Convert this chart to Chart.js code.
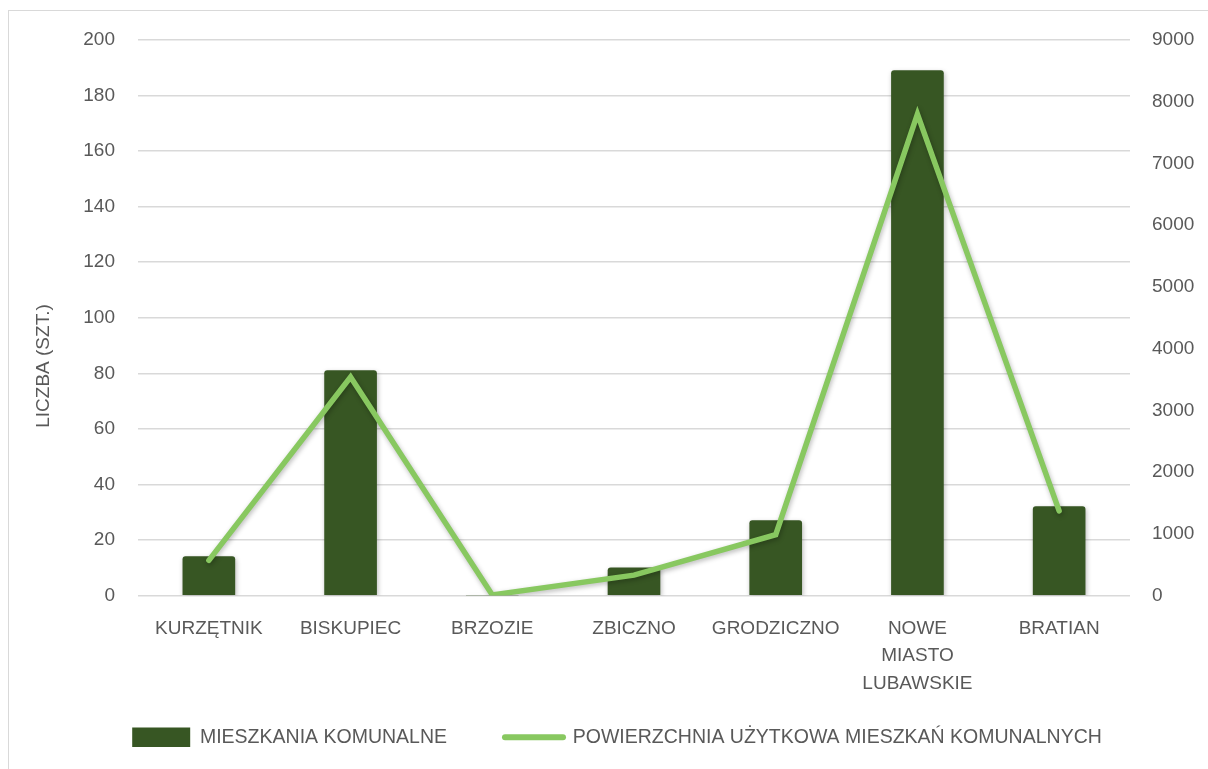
<!DOCTYPE html>
<html>
<head>
<meta charset="utf-8">
<script src="https://cdn.jsdelivr.net/npm/chart.js@4.4.1/dist/chart.umd.min.js"></script>
<style>
  html, body { margin: 0; padding: 0; background: #fff; }
  #wrap { position: relative; width: 1208px; height: 769px; overflow: hidden; }
  #frame { position: absolute; left: 8px; top: 10px; width: 1300px; height: 800px; border: 1px solid #d9d9d9; box-sizing: border-box; }
  canvas { position: absolute; left: 0; top: 0; }
</style>
</head>
<body>
<div id="wrap">
  <div id="frame"></div>
  <canvas id="myChart" width="1208" height="769"></canvas>
</div>
<script>
// categories (gminy)
const labels = [
    'KURZĘTNIK',
    'BISKUPIEC',
    'BRZOZIE',
    'ZBICZNO',
    'GRODZICZNO',
    ['NOWE', 'MIASTO', 'LUBAWSKIE'],
    'BRATIAN'
];

// liczba mieszkań komunalnych (szt.)
const mieszkania = [14, 81, 0, 10, 27, 189, 32];

// powierzchnia użytkowa mieszkań komunalnych (m2)
const powierzchnia = [570, 3540, 10, 330, 985, 7800, 1370];

const leftTicks = { min: 0, max: 200, step: 20 };
const rightTicks = { min: 0, max: 9000, step: 1000 };
const leftTitle = 'LICZBA (SZT.)';

const textColor = '#595959';
const gridColor = '#d9d9d9';
const font = { family: 'Liberation Sans', size: 19 };

// light shadow under bars and line
const shadowPlugin = {
    id: 'shadow',
    beforeDatasetDraw(chart) {
        const ctx = chart.ctx;
        ctx.save();
        ctx.shadowColor = 'rgba(0,0,0,0.28)';
        ctx.shadowBlur = 5;
        ctx.shadowOffsetX = 1;
        ctx.shadowOffsetY = 2;
    },
    afterDatasetDraw(chart) {
        chart.ctx.restore();
    }
};

// let the 3-line label overflow into legend area, nudge legend right
const layoutTweak = {
    id: 'layoutTweak',
    afterLayout(chart) {
        chart.scales.x.bottom = chart.scales.x.top + 110;
        chart.legend.left += 13;
        chart.legend.right += 13;
    }
};

// left axis title, sits a bit below the axis middle like the original
const axisTitle = {
    id: 'axisTitle',
    afterDraw(chart) {
        const ctx = chart.ctx;
        ctx.save();
        ctx.translate(44, 366);
        ctx.rotate(-Math.PI / 2);
        ctx.textAlign = 'center';
        ctx.textBaseline = 'middle';
        ctx.fillStyle = textColor;
        ctx.font = '19px "Liberation Sans"';
        ctx.fillText(leftTitle, 0, 0);
        ctx.restore();
    }
};

const data = {
    labels: labels,
    datasets: [{
        type: 'bar',
        label: 'MIESZKANIA KOMUNALNE',
        data: mieszkania,
        backgroundColor: '#375623',
        borderRadius: { topLeft: 3, topRight: 3 },
        borderSkipped: false,
        barThickness: 52,
        yAxisID: 'y',
        order: 2
    }, {
        type: 'line',
        label: 'POWIERZCHNIA UŻYTKOWA MIESZKAŃ KOMUNALNYCH',
        data: powierzchnia,
        borderColor: '#88c860',
        backgroundColor: '#88c860',
        borderWidth: 5.5,
        borderCapStyle: 'round',
        borderJoinStyle: 'miter',
        pointRadius: 0,
        tension: 0,
        yAxisID: 'y1',
        order: 1
    }]
};

const config = {
    data: data,
    plugins: [shadowPlugin, layoutTweak, axisTitle],
    options: {
        responsive: false,
        animation: false,
        layout: { padding: { left: 10, right: 10, top: 40, bottom: 12 } },
        plugins: {
            tooltip: { enabled: false },
            legend: {
                position: 'bottom',
                labels: {
                    color: textColor,
                    font: { family: 'Liberation Sans', size: 19.5 },
                    usePointStyle: true,
                    pointStyleWidth: 58,
                    boxHeight: 20,
                    padding: 58,
                    sort: (a, b) => a.datasetIndex - b.datasetIndex,
                    generateLabels(chart) {
                        return chart.data.datasets.map((ds, i) => ({
                            text: ds.label,
                            datasetIndex: i,
                            fillStyle: ds.type === 'bar' ? ds.backgroundColor : ds.borderColor,
                            strokeStyle: ds.type === 'bar' ? ds.backgroundColor : ds.borderColor,
                            lineWidth: ds.type === 'bar' ? 0 : 6,
                            lineCap: 'round',
                            pointStyle: ds.type === 'bar' ? 'rect' : 'line',
                            fontColor: textColor,
                            hidden: false
                        }));
                    }
                }
            }
        },
        scales: {
            x: {
                grid: { display: false },
                border: { display: false },
                ticks: {
                    color: textColor,
                    font: { family: 'Liberation Sans', size: 19, lineHeight: 1.45 },
                    padding: 11,
                    maxRotation: 0,
                    autoSkip: false
                },
                afterFit(scale) { scale.height = 74; }
            },
            y: {
                position: 'left',
                min: leftTicks.min,
                max: leftTicks.max,
                grid: { color: gridColor, lineWidth: 1.5, drawTicks: false },
                border: { display: false },
                ticks: { stepSize: leftTicks.step, color: textColor, font: font, padding: 23 },
                afterFit(scale) { scale.width = 128; }
            },
            y1: {
                position: 'right',
                min: rightTicks.min,
                max: rightTicks.max,
                grid: { drawOnChartArea: false, drawTicks: false },
                border: { display: false },
                ticks: {
                    stepSize: rightTicks.step, color: textColor, font: font, padding: 22,
                    callback: v => String(v)
                },
                afterFit(scale) { scale.width = 68; }
            }
        }
    }
};

const myChart = new Chart(document.getElementById('myChart'), config);
</script>
</body>
</html>
